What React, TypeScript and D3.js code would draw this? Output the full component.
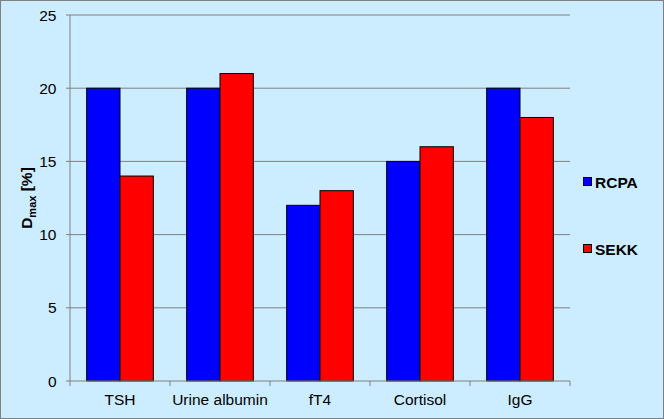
import React from "react";
import * as d3 from "d3";

const categories = ["TSH", "Urine albumin", "fT4", "Cortisol", "IgG"];
const seriesNames = ["RCPA", "SEKK"];
const rcpa = [20, 20, 12, 15, 20];
const sekk = [14, 21, 13, 16, 18];
const yTicks = [0, 5, 10, 15, 20, 25];
const colors = ["#0000FF", "#FF0000"];

export default function App() {
  const W = 664, H = 419;
  const left = 70, right = 570, top = 15, bottom = 381;
  const x = d3.scaleBand<string>().domain(categories).range([left, right]).paddingInner(0).paddingOuter(0);
  const y = d3.scaleLinear().domain([0, 25]).range([bottom, top]);
  const series = [rcpa, sekk];
  const bw = x.bandwidth() / 3;
  const font = "Arial, 'Liberation Sans', sans-serif";
  const fs = 15.5;
  return (
    <svg width={W} height={H} style={{ position: "absolute", left: 0, top: 0 }}>
      <rect x={0.5} y={0.5} width={W - 1} height={H - 1} fill="#CCECFF" stroke="#808080" />
      {yTicks.map((t) => (
        <g key={t}>
          {t > 0 && <line x1={left} x2={right} y1={y(t)} y2={y(t)} stroke="#808080" />}
          <line x1={left - 4} x2={left} y1={y(t)} y2={y(t)} stroke="#808080" />
          <text x={56.5} y={y(t) + 5.5} textAnchor="end" fontSize={fs} fontFamily={font}>{t}</text>
        </g>
      ))}
      {categories.map((c, i) =>
        series.map((s, j) => (
          <rect key={c + j} x={(x(c) as number) + bw / 2 + j * bw} y={y(s[i])} width={bw} height={bottom - y(s[i])} fill={colors[j]} stroke="#000" strokeWidth={1} />
        ))
      )}
      <line x1={left} x2={left} y1={top} y2={bottom} stroke="#808080" />
      <line x1={left} x2={right} y1={bottom} y2={bottom} stroke="#808080" />
      {categories.map((c, i) => (
        <line key={"t" + i} x1={x(c) as number} x2={x(c) as number} y1={bottom} y2={bottom + 5} stroke="#808080" />
      ))}
      <line x1={right} x2={right} y1={bottom} y2={bottom + 5} stroke="#808080" />
      {categories.map((c) => (
        <text key={"l" + c} x={(x(c) as number) + x.bandwidth() / 2} y={405} textAnchor="middle" fontSize={fs} fontFamily={font}>{c}</text>
      ))}
      <text transform={`translate(32,${(top + bottom) / 2}) rotate(-90)`} textAnchor="middle" fontSize={fs} fontWeight="bold" fontFamily={font}>
        D<tspan fontSize={11} dy={4}>max</tspan><tspan dy={-4}> [%]</tspan>
      </text>
      {seriesNames.map((n, j) => (
        <g key={n}>
          <rect x={583.5} y={177.5 + j * 67} width={8} height={8} fill={colors[j]} stroke="#000" />
          <text x={595} y={187.5 + j * 67} fontSize={fs} fontWeight="bold" fontFamily={font}>{n}</text>
        </g>
      ))}
    </svg>
  );
}
